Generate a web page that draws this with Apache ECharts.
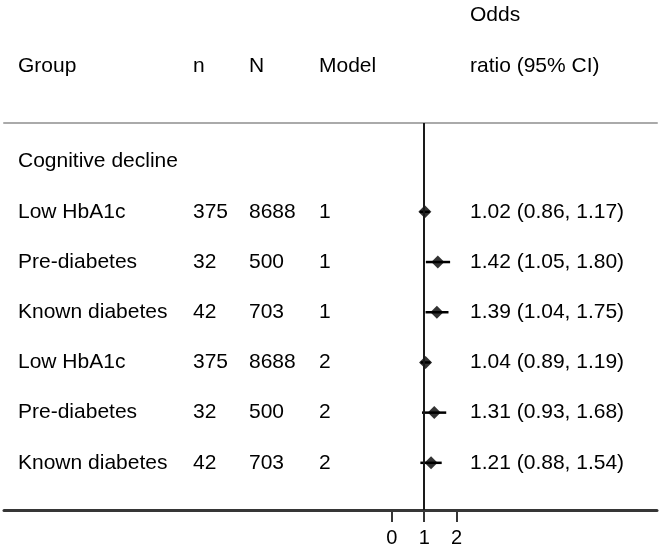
<!DOCTYPE html>
<html>
<head>
<meta charset="utf-8">
<script src="https://cdn.jsdelivr.net/npm/echarts@6/dist/echarts.min.js"></script>
<style>
  html, body { margin: 0; padding: 0; background: #fff; }
  #chart { width: 660px; height: 552px; }
</style>
</head>
<body>
<div id="chart"></div>
<script>
// ---- data ----
const sectionTitle = 'Cognitive decline';
const groups = ['Low HbA1c', 'Pre-diabetes', 'Known diabetes', 'Low HbA1c', 'Pre-diabetes', 'Known diabetes'];
const nCases = [375, 32, 42, 375, 32, 42];
const nTotal = [8688, 500, 703, 8688, 500, 703];
const models = [1, 1, 1, 2, 2, 2];
const oddsRatio = [1.02, 1.42, 1.39, 1.04, 1.31, 1.21];
const ciLow = [0.86, 1.05, 1.04, 0.89, 0.93, 0.88];
const ciHigh = [1.17, 1.80, 1.75, 1.19, 1.68, 1.54];
const headerLabels = ['Group', 'n', 'N', 'Model'];
const orHeader = ['Odds', 'ratio (95% CI)'];
const xTicks = [0, 1, 2];

// ---- layout / style ----
const FONT = '"Liberation Sans", Arial, Helvetica, sans-serif';
const FS = 21;
const colX = [18, 193, 249, 319];
const orX = 470;
const textStyle = (t, x, y) => ({
  type: 'text', x: x, y: y,
  style: { text: t, fill: '#000', fontSize: FS, fontFamily: FONT,
           align: 'left', verticalAlign: 'middle', textAlign: 'left', textVerticalAlign: 'middle' }
});

const rowIdx = [0].concat(groups.map((g, i) => i + 1));
const fmt = v => v.toFixed(2);

const graphicEls = headerLabels.map((h, i) => textStyle(h, colX[i], 66));
graphicEls.push(textStyle(orHeader[0], orX, 15));
graphicEls.push(textStyle(orHeader[1], orX, 66));

const chart = echarts.init(document.getElementById('chart'), null, { renderer: 'canvas' });
chart.setOption({
  animation: false,
  backgroundColor: '#fff',
  grid: { left: 4, right: 3, top: 123, bottom: 42, containLabel: false },
  xAxis: [
    {
      type: 'value', position: 'bottom', min: -12, max: 8.2,
      splitLine: { show: false },
      axisLine: { show: true, onZero: false, lineStyle: { color: '#363636', width: 3 } },
      axisTick: { show: true, length: 12, customValues: xTicks, lineStyle: { color: '#363636', width: 2 } },
      axisLabel: { show: true, customValues: xTicks, margin: 18, color: '#000', fontSize: 20, fontFamily: FONT }
    },
    {
      type: 'value', position: 'top', min: -12, max: 8.2,
      splitLine: { show: false },
      axisLine: { show: true, onZero: false, lineStyle: { color: '#aaaaaa', width: 2 } },
      axisTick: { show: false },
      axisLabel: { show: false }
    }
  ],
  yAxis: {
    type: 'value', inverse: true, min: -0.77, max: 6.94, show: false,
    splitLine: { show: false }
  },
  graphic: { elements: graphicEls },
  series: [
    {
      type: 'custom',
      name: 'ci',
      xAxisIndex: 0,
      data: ciLow.map((l, i) => [l, ciHigh[i], i + 1]),
      encode: { x: [0, 1], y: 2 },
      renderItem: function (params, api) {
        const p1 = api.coord([api.value(0), api.value(2)]);
        const p2 = api.coord([api.value(1), api.value(2)]);
        return {
          type: 'line',
          shape: { x1: p1[0], y1: p1[1], x2: p2[0], y2: p2[1] },
          style: { stroke: '#000', lineWidth: 2.5 }
        };
      },
      z: 3
    },
    {
      type: 'scatter',
      name: 'or',
      xAxisIndex: 0,
      symbol: 'diamond',
      symbolSize: 13,
      itemStyle: { color: '#000' },
      data: oddsRatio.map((v, i) => [v, i + 1]),
      markLine: {
        silent: true,
        symbol: ['none', 'none'],
        label: { show: false },
        lineStyle: { color: '#1a1a1a', width: 2, type: 'solid' },
        data: [{ xAxis: 1 }]
      },
      z: 4
    },
    {
      type: 'custom',
      name: 'text',
      xAxisIndex: 0,
      data: rowIdx.map(r => [0, r]),
      encode: { x: 0, y: 1 },
      renderItem: function (params, api) {
        const r = api.value(1);
        const y = api.coord([0, r])[1];
        if (r === 0) {
          return textStyle(sectionTitle, colX[0], y);
        }
        const i = r - 1;
        return {
          type: 'group',
          children: [
            textStyle(groups[i], colX[0], y),
            textStyle(String(nCases[i]), colX[1], y),
            textStyle(String(nTotal[i]), colX[2], y),
            textStyle(String(models[i]), colX[3], y),
            textStyle(fmt(oddsRatio[i]) + ' (' + fmt(ciLow[i]) + ', ' + fmt(ciHigh[i]) + ')', orX, y)
          ]
        };
      },
      z: 5
    }
  ]
});
</script>
</body>
</html>
